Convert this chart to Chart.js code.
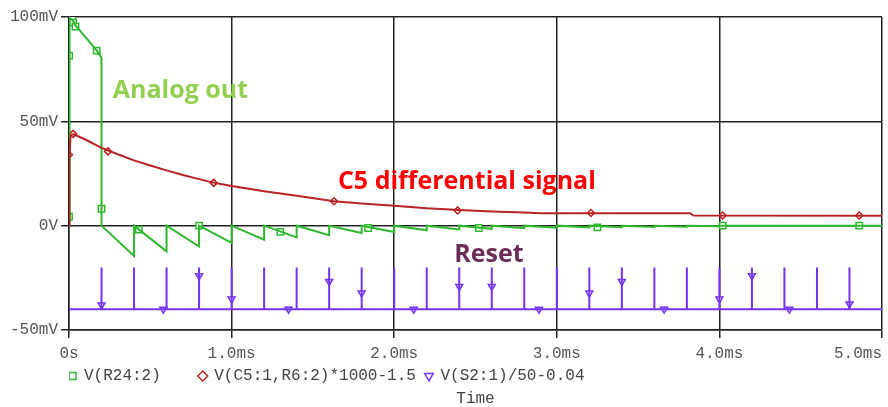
<!DOCTYPE html>
<html>
<head>
<meta charset="utf-8">
<script src="https://cdn.jsdelivr.net/npm/chart.js@4.4.1/dist/chart.umd.min.js"></script>
<style>
  html, body { margin: 0; padding: 0; background: #fff; }
  #wrap { width: 888px; height: 407px; position: relative; }
</style>
</head>
<body>
<div id="wrap"><canvas id="chart"></canvas></div>
<script>
// --- data (time in ms, values in mV) ---
const xTickLabels = ["0s", "1.0ms", "2.0ms", "3.0ms", "4.0ms", "5.0ms"];
const yTickLabels = { "-50": "-50mV", "0": "0V", "50": "50mV", "100": "100mV" };

// V(R24:2) - analog out
const analogOut = [
  [0, 0], [0.003, 99.5], [0.02, 98.8], [0.04, 96], [0.17, 84], [0.2, 80.5], [0.2, 0],
  [0.4, -14.5], [0.4, 0], [0.6, -12.3], [0.6, 0], [0.8, -10], [0.8, 0],
  [1.0, -8.2], [1.0, 0], [1.2, -6.7], [1.2, 0], [1.4, -5.6], [1.4, 0],
  [1.6, -4.6], [1.6, 0], [1.8, -3.5], [1.8, 0], [2.0, -3.0], [2.0, 0],
  [2.2, -2.2], [2.2, 0], [2.4, -1.8], [2.4, 0], [2.6, -1.5], [2.6, 0],
  [2.8, -1.2], [2.8, 0], [3.0, -1.0], [3.0, 0], [3.2, -0.8], [3.2, 0],
  [3.4, -0.7], [3.4, 0], [3.6, -0.6], [3.6, 0], [3.8, -0.5], [3.8, 0],
  [4.0, -0.3], [4.0, 0], [5.0, 0]
];
const analogMarks = [
  [0, 4.3], [0.001, 81.5], [0.02, 99.2], [0.025, 97.3], [0.04, 95.4], [0.17, 83.9],
  [0.2, 8.1], [0.43, -1.9], [0.8, 0], [1.3, -3], [1.84, -1.1], [2.52, -1.1],
  [3.25, -0.8], [4.02, 0], [4.86, 0]
];

// V(C5:1,R6:2)*1000-1.5 - differential signal
const c5Signal = [
  [0, 0], [0.003, 34], [0.01, 43.5], [0.03, 43.8], [0.1, 41.3], [0.2, 37.3],
  [0.3, 34.2], [0.4, 31.3], [0.5, 28.8], [0.6, 26.5], [0.7, 24.3], [0.8, 22.3],
  [0.9, 20.4], [1.0, 19.0], [1.2, 16.5], [1.4, 14.3], [1.63, 11.7], [1.8, 10.6],
  [2.0, 9.5], [2.2, 8.3], [2.4, 7.5], [2.6, 6.8], [2.8, 6.3], [2.9, 6.0],
  [3.82, 6.0], [3.84, 4.9], [5.0, 4.8]
];
const c5Marks = [
  [0, 34], [0.025, 44], [0.24, 35.6], [0.89, 20.5], [1.63, 11.7],
  [2.39, 7.3], [3.21, 6.1], [4.02, 4.9], [4.86, 4.9]
];

// V(S2:1)/50-0.04 - reset pulses
const resetBase = -40;
const resetTop = -20;
const pulseTimes = [0.2, 0.4, 0.6, 0.8, 1.0, 1.2, 1.4, 1.6, 1.8, 2.0, 2.2, 2.4,
  2.6, 2.8, 3.0, 3.2, 3.4, 3.6, 3.8, 4.0, 4.2, 4.4, 4.6, 4.8];
const resetMarks = [
  [0.2, -38], [0.58, -40], [0.8, -24], [1.0, -35.1], [1.35, -40], [1.6, -26.7],
  [1.8, -32.3], [2.12, -40], [2.4, -29.1], [2.6, -29.1], [2.89, -40], [3.2, -32.3],
  [3.4, -26.7], [3.66, -40], [4.0, -35.1], [4.2, -24], [4.43, -40], [4.8, -37.5]
];

// text notes placed on the plot (time, value at baseline)
const notes = [
  { text: "Analog out", t: 0.269, v: 61.4, color: "#92d050" },
  { text: "C5 differential signal", t: 1.654, v: 17.7, color: "#ff0000" },
  { text: "Reset", t: 2.369, v: -17.3, color: "#6b2c55" }
];

const GREEN = "#2eb82e";
const RED = "#b82222";
const PURPLE = "#7433f5";
const MONO = "'Liberation Mono', 'DejaVu Sans Mono', monospace";

const toXY = (pairs) => pairs.map(([x, y]) => ({ x, y }));

const resetLine = [{ x: 0, y: resetBase }];
pulseTimes.forEach((t) => {
  resetLine.push({ x: t, y: resetBase }, { x: t, y: resetTop }, { x: t, y: resetBase });
});
resetLine.push({ x: 5, y: resetBase });

const notesPlugin = {
  id: "notes",
  afterDatasetsDraw(chart) {
    const { ctx, scales } = chart;
    ctx.save();
    ctx.font = "bold 25px 'Open Sans', sans-serif";
    ctx.textAlign = "left";
    ctx.textBaseline = "alphabetic";
    notes.forEach((n) => {
      ctx.fillStyle = n.color;
      ctx.fillText(n.text, scales.x.getPixelForValue(n.t), scales.y.getPixelForValue(n.v));
    });
    ctx.restore();
  }
};

const lineDs = (label, data, color) => ({
  label, data, borderColor: color, borderWidth: 2, pointRadius: 0,
  tension: 0, fill: false, showLine: true
});
const markDs = (label, data, color, style, radius, rotation) => ({
  label, data, borderColor: color, backgroundColor: "#ffffff", borderWidth: 1.5,
  pointStyle: style, pointRadius: radius, pointRotation: rotation || 0,
  showLine: false, isMark: true
});

new Chart(document.getElementById("chart"), {
  type: "scatter",
  data: {
    datasets: [
      lineDs("reset", resetLine, PURPLE),
      lineDs("c5", toXY(c5Signal), RED),
      lineDs("analog", toXY(analogOut), GREEN),
      markDs("V(R24:2)    ", toXY(analogMarks), GREEN, "rect", 4.5),
      markDs("V(C5:1,R6:2)*1000-1.5 ", toXY(c5Marks), RED, "rectRot", 3.5),
      markDs("V(S2:1)/50-0.04", toXY(resetMarks), PURPLE, "triangle", 4, 180)
    ]
  },
  options: {
    responsive: true,
    maintainAspectRatio: false,
    animation: false,
    layout: { padding: { left: 0, top: 17, right: 0, bottom: 0 } },
    plugins: {
      tooltip: { enabled: false },
      legend: {
        position: "bottom",
        align: "start",
        fullSize: false,
        labels: {
          filter: (item, data) => data.datasets[item.datasetIndex].isMark,
          usePointStyle: true,
          boxWidth: 7,
          boxHeight: 7,
          padding: 0,
          color: "#444",
          font: { family: MONO, size: 16 }
        }
      },
      title: {
        display: true,
        text: "Time",
        position: "bottom",
        fullSize: false,
        color: "#444",
        font: { family: MONO, size: 16, weight: "normal", lineHeight: 1 },
        padding: { top: -3, bottom: 0 }
      }
    },
    scales: {
      x: {
        type: "linear",
        min: 0,
        max: 5,
        afterBuildTicks: (scale) => {
          scale.ticks = xTickLabels.map((_, i) => ({ value: i }));
        },
        afterFit: (scale) => {
          scale.height = 38;
          scale.paddingLeft = 0;
          scale.paddingRight = 0;
        },
        grid: { color: "#222", lineWidth: 1.5, tickLength: 8 },
        border: { color: "#222", width: 1.5 },
        ticks: {
          color: "#555",
          padding: 6,
          maxRotation: 0,
          autoSkip: false,
          font: { family: MONO, size: 16 },
          callback: (v, i, ticks) => i === ticks.length - 1
            ? xTickLabels[i] + "     "
            : xTickLabels[i]
        }
      },
      y: {
        min: -50,
        max: 100,
        afterBuildTicks: (scale) => {
          scale.ticks = Object.keys(yTickLabels).map((k) => ({ value: Number(k) }));
        },
        afterFit: (scale) => {
          scale.width = 69;
          scale.paddingTop = 0;
        },
        grid: { color: "#222", lineWidth: 1.5, tickLength: 8 },
        border: { color: "#222", width: 1.5 },
        ticks: {
          color: "#555",
          padding: 3,
          autoSkip: false,
          font: { family: MONO, size: 16 },
          callback: (v) => yTickLabels[String(v)]
        }
      }
    }
  },
  plugins: [notesPlugin]
});
</script>
</body>
</html>
